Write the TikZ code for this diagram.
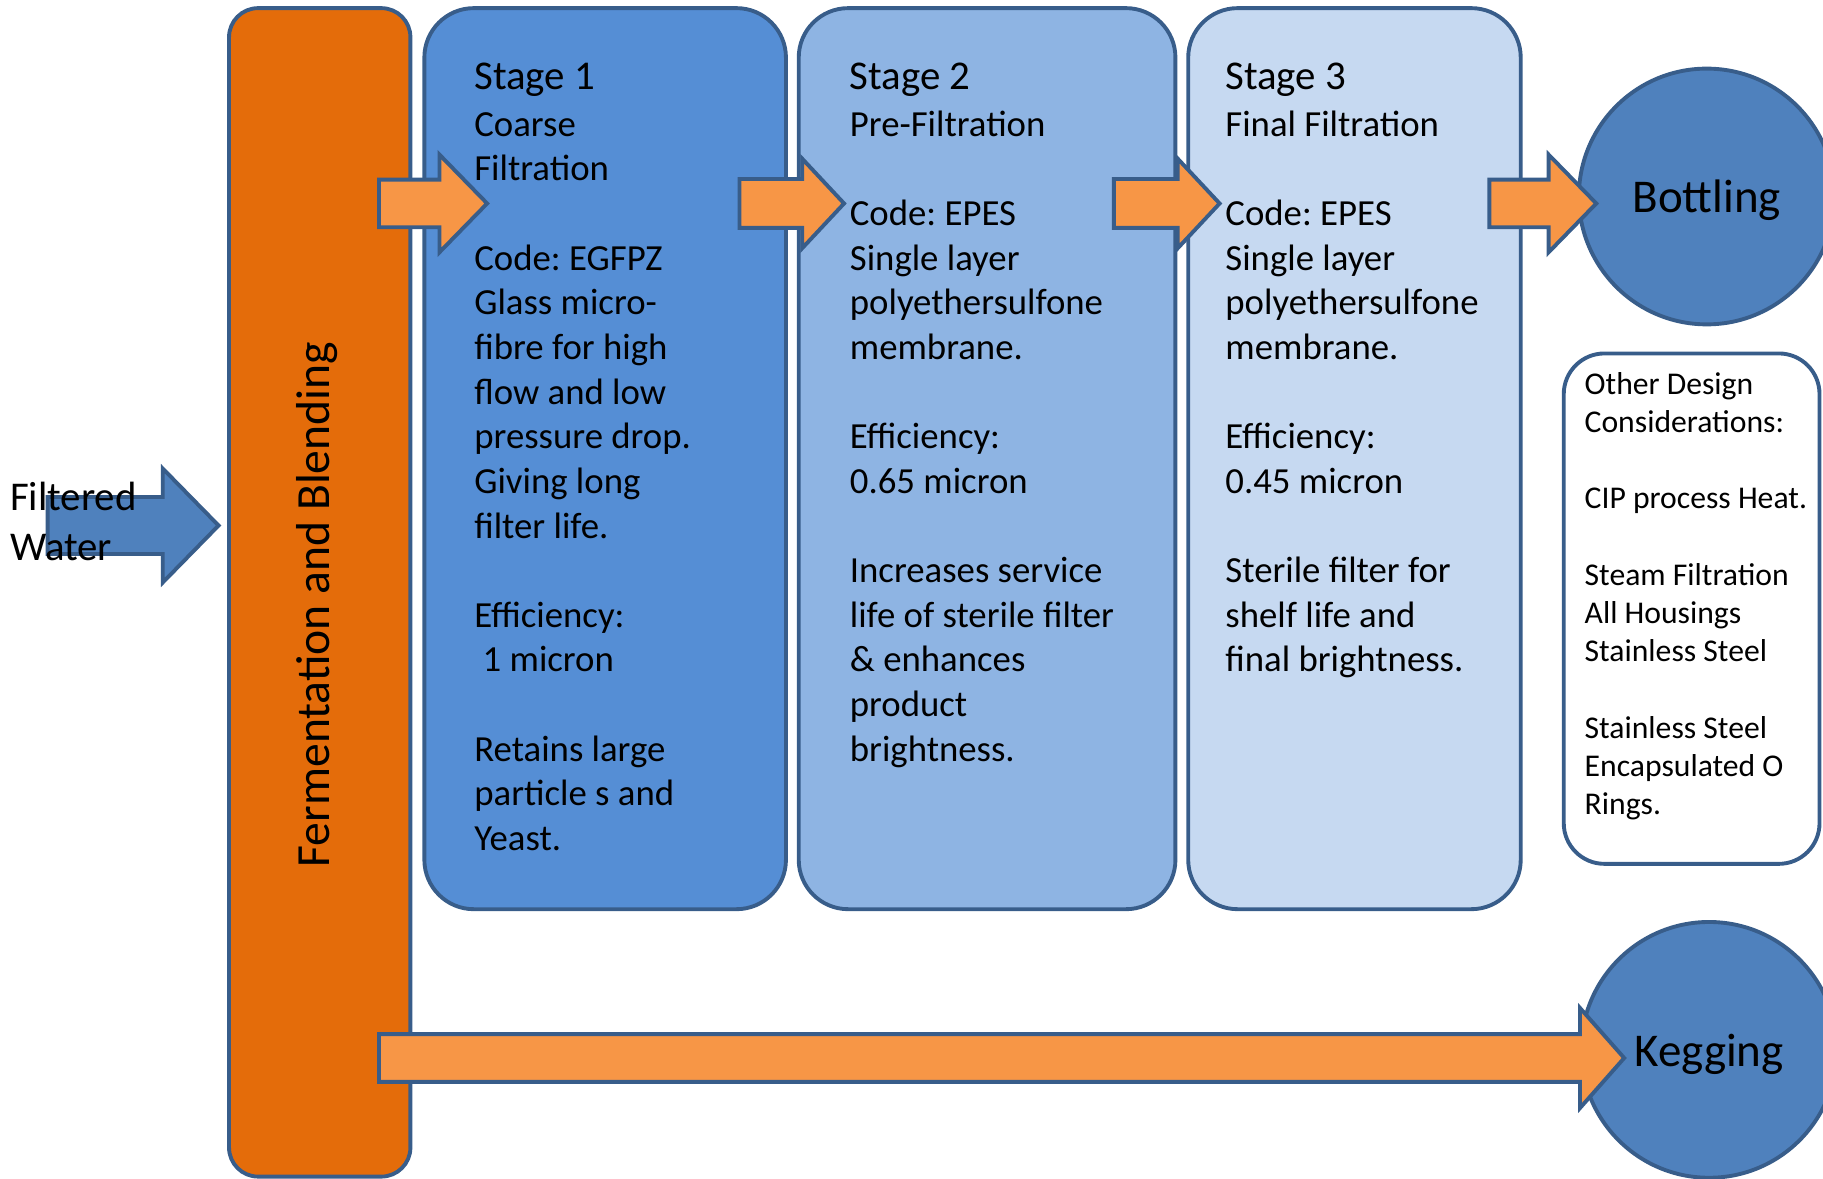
\documentclass[tikz,border=0pt]{standalone}
\usepackage{fontspec}
\setmainfont{Carlito}
\usetikzlibrary{positioning,calc}
\frenchspacing

\definecolor{edgeblue}{HTML}{385D8A}
\definecolor{fermorange}{HTML}{E46C0A}
\definecolor{arroworange}{HTML}{F79646}
\definecolor{stageone}{HTML}{558ED5}
\definecolor{stagetwo}{HTML}{8EB4E3}
\definecolor{stagethree}{HTML}{C6D9F1}
\definecolor{endblue}{HTML}{4F81BD}

\tikzset{
  box/.style = {draw=edgeblue, inner sep=0pt},
  stagebox/.style = {box, rounded corners=8.5mm, minimum height=155mm},
  endpoint/.style = {box, circle, fill=endblue, minimum size=44mm,
    text depth=0pt, font=\fontsize{23}{28}\selectfont},
  stagetext/.style = {inner sep=0pt, align=left,
    font=\fontsize{18}{21.85}\selectfont},
  notetext/.style = {inner sep=0pt, align=left,
    font=\fontsize{15.5}{18.71}\selectfont},
  orangearrow/.style = {draw=edgeblue, fill=arroworange},
  bluearrow/.style = {draw=edgeblue, fill=endblue}
}

% block arrow: tail, tip, head length, shaft half width, head half width
\newcommand{\blockarrow}[6][orangearrow]{%
  \draw[#1] ($(#2)+(0,-#5)$) -- ($(#3)+(-#4,-#5)$) -- ($(#3)+(-#4,-#6)$) -- (#3)
    -- ($(#3)+(-#4,#6)$) -- ($(#3)+(-#4,#5)$) -- ($(#2)+(0,#5)$) -- cycle;}

\newcommand{\stagehead}[1]{{\fontsize{20}{21.85}\selectfont #1}\\[0.4mm]}

\begin{document}
\begin{tikzpicture}[x=0.2mm, y=-0.2mm, line width=1.9pt]
\useasboundingbox (0,0) rectangle (1568,1014);

% blocks
\node[box, rounded corners=5mm, fill=fermorange, minimum width=31.2mm,
  minimum height=201mm] (ferm) at (275,509.5) {};
\node[stagebox, fill=stageone, minimum width=62.2mm] (s1) at (520.5,394.5) {};
\node[stagebox, fill=stagetwo, minimum width=64.8mm] (s2) at (849,394.5) {};
\node[stagebox, fill=stagethree, minimum width=57.2mm] (s3) at (1165,394.5) {};
\node[box, rounded corners=7mm, fill=white, minimum width=44mm,
  minimum height=87.8mm] (other) at (1455,523.5) {};

\node[endpoint] (bottling) at (1468,169) {Bottling};
\node[endpoint] (kegging) at (1470,903) {Kegging};

% arrows
\coordinate (wtail) at (41,452);
\coordinate (wtip) at (188,452);
\coordinate (a1tail) at (326,175);
\coordinate (a1tip) at (419,175);
\coordinate (a2tail) at (636,175);
\coordinate (a2tip) at (726,175);
\coordinate (a3tail) at (958,175);
\coordinate (a3tip) at (1049,175);
\coordinate (a4tail) at (1281,175);
\coordinate (a4tip) at (1373,175);
\coordinate (ktail) at (326,910);
\coordinate (ktip) at (1397,910);

\blockarrow[bluearrow]{wtail}{wtip}{48}{24.5}{49}
\blockarrow{a1tail}{a1tip}{41}{20.5}{42}
\blockarrow{a2tail}{a2tip}{36}{21}{38.5}
\blockarrow{a3tail}{a3tip}{36}{21}{38.5}
\blockarrow{a4tail}{a4tip}{41}{20.5}{42}
\blockarrow{ktail}{ktip}{38}{20.5}{43}

% texts
\node[inner sep=0pt, align=left, anchor=north west,
  font=\fontsize{20}{24.4}\selectfont] (water) at (7,413) {Filtered\\Water};
\node[inner sep=0pt, rotate=90, font=\fontsize{23.3}{28}\selectfont]
  (fermtext) at (273,520) {Fermentation and Blending};

\node[stagetext, below right=9.4mm and 8.6mm of s1.north west] (s1text)
  {\stagehead{Stage 1}Coarse\\Filtration\\~\\Code: EGFPZ\\Glass micro-\\
   fibre for high\\flow and low\\pressure drop.\\Giving long\\filter life.\\~\\
   Efficiency:\\~1 micron\\~\\Retains large\\particle s and\\Yeast.};
\node[stagetext, below right=9.4mm and 8.8mm of s2.north west] (s2text)
  {\stagehead{Stage 2}Pre-Filtration\\~\\Code: EPES\\Single layer\\
   polyethersulfone\\membrane.\\~\\Efficiency:\\0.65 micron\\~\\
   Increases service\\life of sterile filter\\\& enhances\\product\\brightness.};
\node[stagetext, below right=9.4mm and 6.4mm of s3.north west] (s3text)
  {\stagehead{Stage 3}Final Filtration\\~\\Code: EPES\\Single layer\\
   polyethersulfone\\membrane.\\~\\Efficiency:\\0.45 micron\\~\\
   Sterile filter for\\shelf life and\\final brightness.};
\node[notetext, below right=3.2mm and 3.6mm of other.north west] (othertext)
  {Other Design\\Considerations:\\~\\CIP process Heat.\\~\\Steam Filtration\\
   All Housings\\Stainless Steel\\~\\Stainless Steel\\Encapsulated O\\Rings.};

\end{tikzpicture}
\end{document}
